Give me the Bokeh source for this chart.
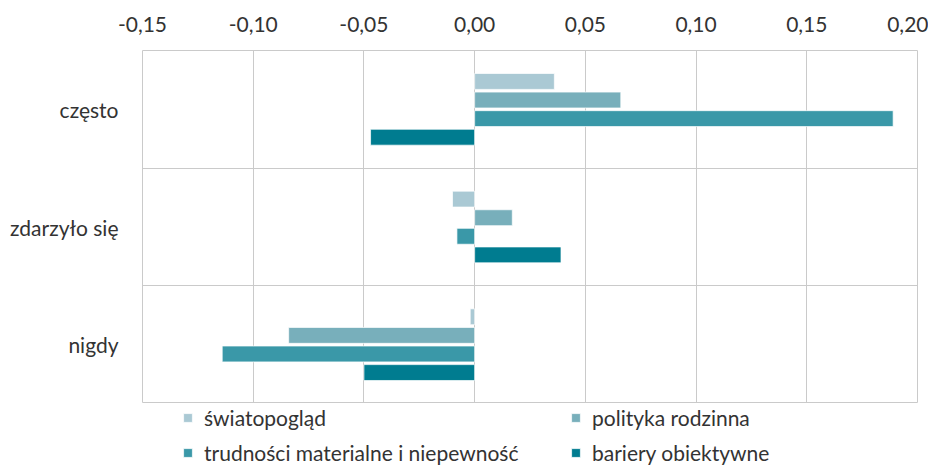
from bokeh.plotting import figure
from bokeh.layouts import column
from bokeh.models import (ColumnDataSource, Range1d, FixedTicker, Grid, Legend,
                          LegendItem)
from bokeh.embed import file_html
from bokeh.resources import INLINE

# ---- data ----
categories = ["często", "zdarzyło się", "nigdy"]
series = ["światopogląd", "polityka rodzinna",
          "trudności materialne i niepewność", "bariery obiektywne"]
swiatopoglad = [0.036, -0.010, -0.002]
polityka_rodzinna = [0.066, 0.017, -0.084]
trudnosci = [0.189, -0.008, -0.114]
bariery = [-0.047, 0.039, -0.050]
x_ticks = [-0.15, -0.10, -0.05, 0.00, 0.05, 0.10, 0.15, 0.20]
x_tick_labels = ["-0,15", "-0,10", "-0,05", "0,00", "0,05", "0,10", "0,15", "0,20"]

# ---- style ----
colors = ["#AAC9D4", "#78AFBB", "#3A98A8", "#007C90"]
FONT = "Lato"
TXT = "#333333"
GRID = "#CACACA"
FS = "21px"
offsets = [0.237, 0.079, -0.079, -0.237]
bar_h = 0.135

n = len(categories)
p = figure(width=928, height=403, output_backend="svg", toolbar_location=None,
           x_range=Range1d(x_ticks[0], x_ticks[-1]), y_range=Range1d(0, n),
           x_axis_location="above", y_axis_location="left",
           min_border_left=142, min_border_right=11, min_border_top=50,
           min_border_bottom=0)
p.outline_line_color = GRID
p.outline_line_width = 1
p.background_fill_color = "white"
p.border_fill_color = "white"

# top axis (labels only)
xa = p.xaxis[0]
xa.ticker = FixedTicker(ticks=x_ticks)
xa.major_label_overrides = {t: lab for t, lab in zip(x_ticks, x_tick_labels)}
xa.axis_line_color = None
xa.major_tick_line_color = None
xa.minor_tick_line_color = None
xa.major_label_standoff = 13
xa.major_label_text_font = FONT
xa.major_label_text_font_size = FS
xa.major_label_text_color = TXT
p.xgrid.grid_line_color = GRID
p.xgrid.grid_line_width = 1

# category separators
for g in p.ygrid:
    g.visible = False
p.add_layout(Grid(dimension=1, ticker=FixedTicker(ticks=list(range(1, n))),
                  grid_line_color=GRID, grid_line_width=1))

cat_pos = [n - i - 0.5 for i in range(n)]
ya = p.yaxis[0]
ya.ticker = FixedTicker(ticks=cat_pos)
ya.major_label_overrides = {pos: c for pos, c in zip(cat_pos, categories)}
ya.axis_line_color = None
ya.major_tick_line_color = None
ya.minor_tick_line_color = None
ya.major_label_standoff = 18
ya.major_label_text_font = FONT
ya.major_label_text_font_size = FS
ya.major_label_text_color = TXT

values = [swiatopoglad, polityka_rodzinna, trudnosci, bariery]
sources = []
for j, (vals, col) in enumerate(zip(values, colors)):
    src = ColumnDataSource(dict(y=[pos + offsets[j] for pos in cat_pos], x=vals))
    sources.append(src)
    p.hbar(y="y", left=0, right="x", height=bar_h, source=src,
           fill_color=col, line_color="white", line_alpha=0.7, line_width=1)

# ---- legend strip under the chart ----
lg = figure(width=928, height=63, output_backend="svg", toolbar_location=None,
            x_range=Range1d(0, 1), y_range=Range1d(0, 1),
            x_axis_location=None, y_axis_location=None, min_border=0)
lg.outline_line_color = None
lg.background_fill_color = "white"
lg.border_fill_color = "white"
for g in lg.grid:
    g.visible = False
leg_renderers = []
for src, col in zip(sources, colors):
    r = lg.hbar(y="y", left=0, right="x", height=bar_h, source=src,
                fill_color=col, line_color="white", line_alpha=0.7, line_width=1,
                visible=False)
    leg_renderers.append(r)

legend = Legend(items=[LegendItem(label=s, renderers=[r]) for s, r in zip(series, leg_renderers)],
                location=(40, 1), orientation="horizontal", ncols=2,
                glyph_width=11, glyph_height=11, label_standoff=11,
                label_width=356, spacing=10, padding=0, margin=0,
                border_line_color=None, background_fill_alpha=0,
                inactive_fill_alpha=0,
                label_text_font=FONT, label_text_font_size=FS,
                label_text_color=TXT)
lg.add_layout(legend)

layout = column(p, lg, spacing=0)
open("out.html", "w").write(file_html(layout, INLINE))
